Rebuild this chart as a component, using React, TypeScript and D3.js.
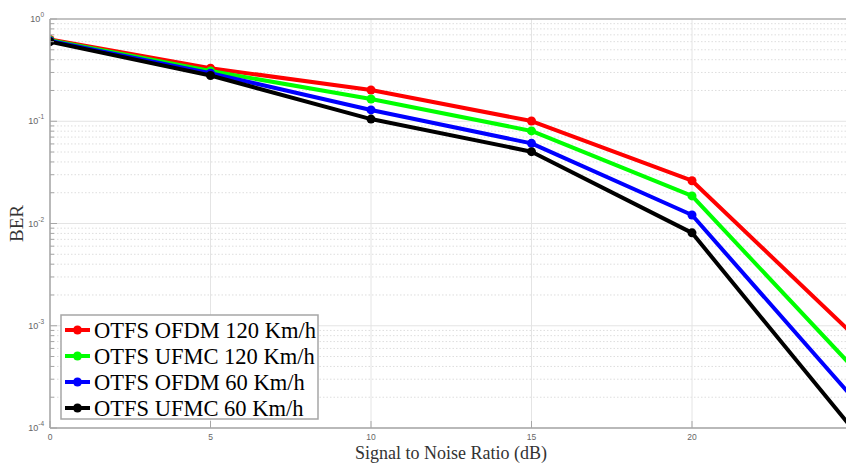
import React from 'react';
import * as d3 from 'd3';

// SNR points (dB)
const snr = [0, 5, 10, 15, 20, 25];

const ofdm120 = [0.63, 0.33, 0.202, 0.1005, 0.0262, 0.00083];
const ufmc120 = [0.62, 0.31, 0.165, 0.0804, 0.0186, 0.000396];
const ofdm60 = [0.61, 0.295, 0.129, 0.0608, 0.0121, 0.000199];
const ufmc60 = [0.6, 0.28, 0.105, 0.0504, 0.0081, 0.000098];

const seriesNames = ['OTFS OFDM 120 Km/h', 'OTFS UFMC 120 Km/h', 'OTFS OFDM 60 Km/h', 'OTFS UFMC 60 Km/h'];
const seriesColors = ['#ff0000', '#00ff00', '#0000ff', '#000000'];
const seriesValues = [ofdm120, ufmc120, ofdm60, ufmc60];

const xTicks = [0, 5, 10, 15, 20];
const yExponents = [0, -1, -2, -3, -4];

const W = 846;
const H = 463;
const margin = { top: 19, left: 50, bottom: 35 };
const plotRight = 852.5;

const App = () => {
    const x = d3.scaleLinear().domain([0, 25]).range([margin.left, plotRight]);
    const y = d3.scaleLog().domain([1e-4, 1]).range([H - margin.bottom, margin.top]);

    const line = d3.line<[number, number]>()
        .x((d) => x(d[0]))
        .y((d) => y(d[1]));

    // minor ticks 2..9 per decade
    const minor: number[] = [];
    for (let e = -4; e < 0; e++) {
        for (let m = 2; m <= 9; m++) minor.push(m * Math.pow(10, e));
    }

    const x0 = margin.left;
    const yBottom = y(1e-4);
    const yTop = y(1);

    const legend = { x: 61, y: 315, w: 257, h: 104 };

    return (
        <svg width={W} height={H} style={{ position: 'absolute', left: 0, top: 0, background: '#fff' }}>
            <defs>
                <clipPath id="plot">
                    <rect x={x0} y={yTop} width={plotRight - x0} height={yBottom - yTop} />
                </clipPath>
            </defs>

            {/* minor grid */}
            {minor.map((v, i) => (
                <line key={'mg' + i} x1={x0} x2={plotRight} y1={y(v)} y2={y(v)}
                    stroke="#dedede" strokeWidth={1} strokeDasharray="1.5,2" />
            ))}
            {/* major grid */}
            {yExponents.map((e) => (
                <line key={'yg' + e} x1={x0} x2={plotRight} y1={y(Math.pow(10, e))} y2={y(Math.pow(10, e))}
                    stroke="#e4e4e4" strokeWidth={1} />
            ))}
            {xTicks.map((t) => (
                <line key={'xg' + t} x1={x(t)} x2={x(t)} y1={yTop} y2={yBottom}
                    stroke="#e4e4e4" strokeWidth={1} />
            ))}

            {/* series */}
            <g clipPath="url(#plot)">
                {seriesValues.map((vals, si) => {
                    const pts: [number, number][] = snr.map((s, i) => [s, vals[i]]);
                    return (
                        <g key={'s' + si}>
                            <path d={line(pts) || ''} fill="none" stroke={seriesColors[si]} strokeWidth={4} strokeLinejoin="round" />
                            {pts.map((p, i) => (
                                <circle key={i} cx={x(p[0])} cy={y(p[1])} r={4.5} fill={seriesColors[si]} />
                            ))}
                        </g>
                    );
                })}
            </g>

            {/* axes */}
            <line x1={x0} x2={x0} y1={yTop} y2={yBottom} stroke="#a6a6a6" strokeWidth={1.5} />
            <line x1={x0} x2={plotRight} y1={yBottom} y2={yBottom} stroke="#a6a6a6" strokeWidth={1.5} />
            <line x1={x0} x2={plotRight} y1={yTop} y2={yTop} stroke="#b3b3b3" strokeWidth={1.5} />

            {minor.map((v, i) => (
                <line key={'mt' + i} x1={x0} x2={x0 + 4} y1={y(v)} y2={y(v)} stroke="#a6a6a6" strokeWidth={1} />
            ))}
            {yExponents.map((e) => (
                <g key={'yt' + e}>
                    <line x1={x0} x2={x0 + 7} y1={y(Math.pow(10, e))} y2={y(Math.pow(10, e))} stroke="#a6a6a6" strokeWidth={1} />
                    <text x={x0 - 6} y={y(Math.pow(10, e)) + 3} textAnchor="end"
                        fontFamily="Liberation Sans, Arial, sans-serif" fontSize={9} fill="#666">
                        10<tspan dy={-5} fontSize={6.5}>{e}</tspan>
                    </text>
                </g>
            ))}
            {xTicks.map((t) => (
                <g key={'xt' + t}>
                    <line x1={x(t)} x2={x(t)} y1={yBottom} y2={yBottom - 7} stroke="#a6a6a6" strokeWidth={1} />
                    <text x={x(t)} y={yBottom + 12} textAnchor="middle"
                        fontFamily="Liberation Sans, Arial, sans-serif" fontSize={8.5} fill="#666">{t}</text>
                </g>
            ))}

            {/* axis titles */}
            <text x={451} y={459} textAnchor="middle" fontFamily="Liberation Serif, Times New Roman, serif"
                fontSize={18} fill="#333">Signal to Noise Ratio (dB)</text>
            <text transform={`translate(23, ${(yTop + yBottom) / 2}) rotate(-90)`} textAnchor="middle"
                fontFamily="Liberation Serif, Times New Roman, serif" fontSize={19} fill="#333">BER</text>

            {/* legend */}
            <rect x={legend.x} y={legend.y} width={legend.w} height={legend.h} fill="#fff" stroke="#a6a6a6" strokeWidth={1.5} />
            {seriesNames.map((name, i) => {
                const cy = legend.y + 15 + i * 26;
                return (
                    <g key={'lg' + i}>
                        <line x1={legend.x + 4} x2={legend.x + 29} y1={cy} y2={cy} stroke={seriesColors[i]} strokeWidth={4} />
                        <circle cx={legend.x + 16.5} cy={cy} r={4.5} fill={seriesColors[i]} />
                        <text x={legend.x + 33} y={cy + 7.5} fontFamily="Liberation Serif, Times New Roman, serif"
                            fontSize={22.5} fill="#000">{name}</text>
                    </g>
                );
            })}
        </svg>
    );
};

export default App;
